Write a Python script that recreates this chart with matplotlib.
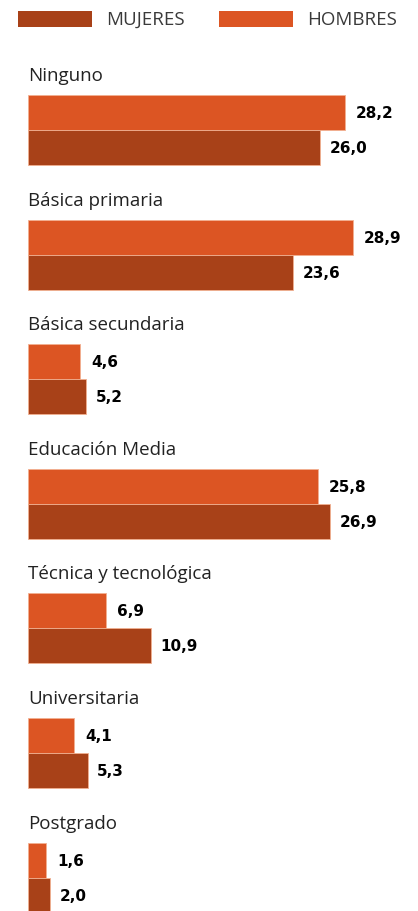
import matplotlib.pyplot as plt
from matplotlib.patches import Rectangle
import numpy as np

categorias = ['Ninguno', 'Básica primaria', 'Básica secundaria', 'Educación Media',
              'Técnica y tecnológica', 'Universitaria', 'Postgrado']
hombres = [28.2, 28.9, 4.6, 25.8, 6.9, 4.1, 1.6]
mujeres = [26.0, 23.6, 5.2, 26.9, 10.9, 5.3, 2.0]

c_hombres = '#dc5523'
c_mujeres = '#a84118'
edge = '#f2b090'
fnt = 'Open Sans'

W, H = 418, 912
fig = plt.figure(figsize=(W / 100, H / 100), dpi=100)
ax = fig.add_axes([0, 0, 1, 1])
ax.axis('off')

px_unit = 11.24   # px per value unit
grp = 124.6       # px per group
x0 = 28
ax.set_xlim(-x0 / px_unit, (W - x0) / px_unit)
ax.set_ylim((H - 76) / grp, -76 / grp)

y = np.arange(len(categorias))
bh = 35 / grp
yh = y + 37.5 / grp
ym = y + 72.5 / grp

ax.barh(yh, hombres, height=bh, color=c_hombres, edgecolor=edge, linewidth=0.6)
ax.barh(ym, mujeres, height=bh, color=c_mujeres, edgecolor=edge, linewidth=0.6)

for i, cat in enumerate(categorias):
    ax.text(0, y[i], cat, fontsize=13.5, family=fnt, color='#222222', va='center', ha='left')
    ax.annotate(f'{hombres[i]:.1f}'.replace('.', ','), (hombres[i], yh[i]),
                xytext=(8, 0), textcoords='offset points', va='center', ha='left',
                fontsize=11, fontweight='bold', family='DejaVu Sans', color='black')
    ax.annotate(f'{mujeres[i]:.1f}'.replace('.', ','), (mujeres[i], ym[i]),
                xytext=(7, 0), textcoords='offset points', va='center', ha='left',
                fontsize=11, fontweight='bold', family='DejaVu Sans', color='black')

# legend
for xp, col, lab, xt in [(18, c_mujeres, 'MUJERES', 106), (219, c_hombres, 'HOMBRES', 307)]:
    fig.add_artist(Rectangle((xp / W, 1 - 28 / H), 74 / W, 16 / H,
                             transform=fig.transFigure, color=col, lw=0))
    fig.text(xt / W, 1 - 20 / H, lab, fontsize=13.5, family=fnt,
             color='#3a3a3a', va='center', ha='left')

fig.savefig('out.png', dpi=100)
